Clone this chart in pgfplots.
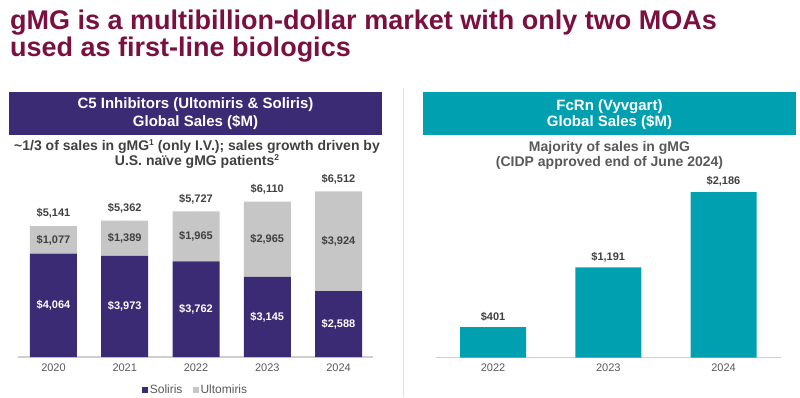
\documentclass[border=0pt]{standalone}
\usepackage{pgfplots}
\pgfplotsset{compat=1.18}
\usepackage{fontspec}
\setmainfont{Liberation Sans}
\definecolor{titlecol}{HTML}{7A1040}
\definecolor{solcol}{HTML}{3B2A74}
\definecolor{ultcol}{HTML}{C6C6C6}
\definecolor{tealcol}{HTML}{00A0B0}
\definecolor{txtgray}{HTML}{404040}
\definecolor{tickgray}{HTML}{595959}
\definecolor{sepgray}{HTML}{E2E2E2}
\definecolor{axgray}{HTML}{CFCFCF}
\newcommand{\sups}[1]{\raisebox{0.62ex}{\fontsize{8.5}{9}\selectfont #1}}

\pgfplotstableread{
x sol ult
0 4064 1077
1 3973 1389
2 3762 1965
3 3145 2965
4 2588 3924
}\leftdata

\pgfplotstableread{
x y lab
0 2032 \$4,064
1 1986.5 \$3,973
2 1881 \$3,762
3 1572.5 \$3,145
4 1294 \$2,588
}\sollab

\pgfplotstableread{
x y lab
0 4602.5 \$1,077
1 4667.5 \$1,389
2 4744.5 \$1,965
3 4627.5 \$2,965
4 4550 \$3,924
}\ultlab

\pgfplotstableread{
x y lab
0 5141 \$5,141
1 5362 \$5,362
2 5727 \$5,727
3 6110 \$6,110
4 6512 \$6,512
}\totlab

\pgfplotstableread{
x y lab
0 401 \$401
1 1191 \$1,191
2 2186 \$2,186
}\rightdata

\pgfplotsset{
  common/.style={
    scale only axis,
    anchor=south west,
    ymin=0,
    xtick=data,
    major tick length=0pt,
    axis x line=bottom,
    axis y line=none,
    x axis line style={-, draw=axgray, line width=1.2pt},
    xtick style={draw=none},
    tick label style={font=\fontsize{11}{13}\selectfont, text=tickgray, yshift=-3pt},
  },
  lab/.style={
    only marks, mark=*, mark size=0pt, mark options={draw=none, fill=none},
    nodes near coords, point meta=explicit symbolic,
  },
}

\begin{document}
\begin{tikzpicture}
\useasboundingbox (0pt,0pt) rectangle (800pt,397pt);

% title
\node[anchor=base west, text=titlecol, font=\fontsize{27}{29}\bfseries\selectfont, inner sep=0]
  at (10pt,367pt) {gMG is a multibillion-dollar market with only two MOAs};
\node[anchor=base west, text=titlecol, font=\fontsize{27}{29}\bfseries\selectfont, inner sep=0]
  at (10pt,340pt) {used as first-line biologics};

% separator
\draw[sepgray, line width=1pt] (403pt,0pt) -- (403pt,309pt);

% left header
\fill[solcol] (9pt,262pt) rectangle (382pt,305pt);
\node[anchor=base, text=white, font=\fontsize{15}{17}\bfseries\selectfont, inner sep=0]
  at (195.5pt,288pt) {C5 Inhibitors (Ultomiris \& Soliris)};
\node[anchor=base, text=white, font=\fontsize{15}{17}\bfseries\selectfont, inner sep=0]
  at (195.5pt,270pt) {Global Sales (\$M)};
\node[anchor=base, text=txtgray, font=\fontsize{14}{16}\bfseries\selectfont, inner sep=0]
  at (197pt,247pt) {\textasciitilde 1/3 of sales in gMG\sups{1} (only I.V.); sales growth driven by};
\node[anchor=base, text=txtgray, font=\fontsize{14}{16}\bfseries\selectfont, inner sep=0]
  at (197pt,232pt) {U.S. naïve gMG patients\sups{2}};

% right header
\fill[tealcol] (423pt,262pt) rectangle (796pt,305pt);
\node[anchor=base, text=white, font=\fontsize{15}{17}\bfseries\selectfont, inner sep=0]
  at (609.5pt,287pt) {FcRn (Vyvgart)};
\node[anchor=base, text=white, font=\fontsize{15}{17}\bfseries\selectfont, inner sep=0]
  at (609.5pt,270pt) {Global Sales (\$M)};
\node[anchor=base, text=tickgray, font=\fontsize{14}{16}\bfseries\selectfont, inner sep=0]
  at (609.5pt,246pt) {Majority of sales in gMG};
\node[anchor=base, text=tickgray, font=\fontsize{14}{16}\bfseries\selectfont, inner sep=0]
  at (609.5pt,231pt) {(CIDP approved end of June 2024)};

% left chart
\begin{axis}[common,
  at={(18pt,40pt)}, width=355pt, height=178.15pt,
  xmin=-0.498, xmax=4.484, ymax=7000,
  ybar stacked, bar width=47pt,
  xticklabels={2020,2021,2022,2023,2024},
  legend style={at={(0.5,-0.185)}, anchor=center, draw=none, fill=none,
    legend columns=2, font=\fontsize{12}{13}\selectfont, text=tickgray,
    /tikz/every odd column/.append style={column sep=0pt},
    /tikz/every even column/.append style={column sep=8pt},
    legend cell align=left},
  legend image code/.code={\fill[#1] (2pt,-3pt) rectangle (8pt,3pt);},
]
\addplot[fill=solcol, draw=none] table[x=x, y=sol] {\leftdata};
\addlegendentry{Soliris}
\addplot[fill=ultcol, draw=none] table[x=x, y=ult] {\leftdata};
\addlegendentry{Ultomiris}
\end{axis}

% left labels overlay
\begin{axis}[scale only axis, anchor=south west, hide axis,
  at={(18pt,40pt)}, width=355pt, height=178.15pt,
  xmin=-0.498, xmax=4.484, ymin=0, ymax=7000]
\addplot[lab, every node near coord/.style={anchor=center, text=white, font=\fontsize{11}{13}\bfseries\selectfont}]
  table[x=x, y=y, meta=lab] {\sollab};
\addplot[lab, every node near coord/.style={anchor=center, text=txtgray, font=\fontsize{11}{13}\bfseries\selectfont}]
  table[x=x, y=y, meta=lab] {\ultlab};
\addplot[lab, every node near coord/.style={anchor=south, yshift=4pt, text=txtgray, font=\fontsize{11}{13}\bfseries\selectfont}]
  table[x=x, y=y, meta=lab] {\totlab};
\end{axis}

% right chart
\begin{axis}[common,
  at={(436pt,39.5pt)}, width=345pt, height=181.7pt,
  xmin=-0.495, xmax=2.499, ymax=2400,
  ybar, bar width=66pt,
  xticklabels={2022,2023,2024},
  nodes near coords, point meta=explicit symbolic,
  every node near coord/.style={anchor=south, yshift=2pt, text=txtgray, font=\fontsize{11}{13}\bfseries\selectfont},
]
\addplot[fill=tealcol, draw=none] table[x=x, y=y, meta=lab] {\rightdata};
\end{axis}

\end{tikzpicture}
\end{document}
